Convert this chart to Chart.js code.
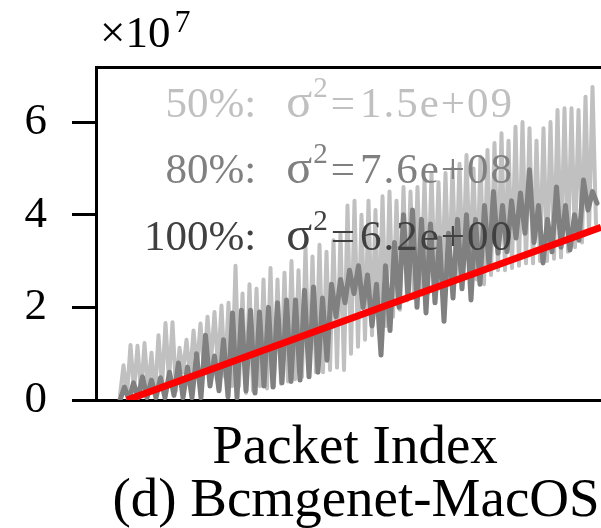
<!DOCTYPE html>
<html>
<head>
<meta charset="utf-8">
<script src="https://cdn.jsdelivr.net/npm/chart.js@4.4.0/dist/chart.umd.min.js"></script>
<style>
    html, body { margin: 0; padding: 0; background: #fff; overflow: hidden; }
    canvas { display: block; }
</style>
</head>
<body>
<canvas id="varChart" width="601" height="528"></canvas>
<script>
// values in units of 1e7
const light50 = [
    0.1, 0.75, 0.1, 1.19, 0.2, 1.17, 0.15, 1.23, 0.2, 1.02,
    0.1, 1.4, 0.3, 1.66, 0.4, 1.68, 0.2, 1.13, 0.6, 1.3,
    0.5, 1.5, 0.7, 1.65, 0.6, 1.8, 0.8, 1.9, 0.7, 2.04,
    0.5, 2.1, 0.3, 2.9, 0.3, 2.3, 0.15, 2.5, 0.2, 2.4,
    0.3, 2.6, 0.25, 2.85, 0.3, 2.6, 0.35, 2.75, 0.4, 3.0,
    0.45, 2.8, 0.5, 3.3, 0.55, 3.1, 0.6, 3.35, 0.6, 3.2,
    0.65, 3.45, 0.7, 3.6, 0.65, 4.2, 1.0, 4.3, 1.15, 4.0,
    1.3, 4.3, 1.4, 4.1, 1.45, 4.4, 1.6, 4.5, 1.8, 4.3,
    1.95, 4.6, 2.15, 4.5, 2.2, 4.6, 2.3, 4.75, 2.3, 4.9,
    2.4, 4.7, 2.45, 4.9, 2.5, 5.0, 2.6, 5.1, 2.7, 5.29,
    2.87, 5.0, 2.6, 5.25, 2.5, 5.4, 2.7, 5.55, 2.8, 5.76,
    2.8, 5.6, 2.85, 5.9, 2.9, 6.0, 2.95, 5.87, 2.95, 5.6,
    3.0, 5.87, 3.0, 6.0, 3.05, 6.26, 3.08, 6.3, 3.2, 6.3,
    3.3, 6.26, 3.4, 6.55, 3.6, 6.76, 3.8
];
const mid80 = [
    0.0, 0.28, 0.0, 0.37, 0.05, 0.5, 0.05, 0.43, 0.05, 0.48,
    0.05, 0.6, 0.1, 0.8, 0.05, 0.71, 0.05, 1.0, 0.05, 1.4,
    0.3, 0.95, 0.2, 1.3, 0.07, 1.88, 0.05, 1.94, 0.2, 1.94,
    0.15, 1.9, 0.3, 2.0, 0.28, 2.1, 0.37, 2.16, 0.4, 2.16,
    0.43, 2.37, 0.5, 2.44, 0.6, 2.2, 0.86, 2.5, 1.8, 2.6,
    2.1, 2.8, 2.3, 2.9, 2.0, 2.7, 1.6, 2.5, 0.97, 2.9,
    1.5, 3.4, 2.0, 4.0, 2.2, 4.1, 2.0, 3.9, 1.88, 3.8,
    2.1, 3.5, 1.7, 3.6, 2.2, 3.9, 2.4, 4.0, 2.16, 3.9,
    2.5, 4.2, 2.9, 4.5, 3.17, 4.2, 3.2, 4.3, 3.5, 4.47,
    3.6, 4.97, 3.4, 4.2, 2.96, 3.9, 3.2, 4.6, 3.3, 4.2,
    3.24, 4.0, 3.45, 4.75, 4.1, 4.5, 4.25
];
const fitIdx = [31, 505];
const fitVal = [0, 3.73];

const yTicks = [0, 2, 4, 6];
const legendPct = ['50%', '80%', '100%'];
const legendVar = ['1.5e+09', '7.6e+08', '6.2e+00'];
const legendColors = ['#c0c0c0', '#808080', '#404040'];

const SERIF = '"Liberation Serif", "DejaVu Serif", serif';

function toPoints(values, start, step) {
    return values.map((v, i) => ({ x: start + step * i, y: v }));
}

function spacedWidth(ctx, text, spacing) {
    let w = 0;
    for (const ch of text) w += ctx.measureText(ch).width + spacing;
    return w - spacing;
}

function drawSpaced(ctx, text, x, y, spacing) {
    for (const ch of text) {
        ctx.fillText(ch, x, y);
        x += ctx.measureText(ch).width + spacing;
    }
}

// "50%:   σ² = value", laid out from the right edge
function drawVarLabel(ctx, right, base, pct, value) {
    const big = '43px ' + SERIF;
    const small = '29px ' + SERIF;
    ctx.font = big;
    const wVal = spacedWidth(ctx, value, 2);
    let x = right - wVal;
    drawSpaced(ctx, value, x, base, 2);
    const wEq = ctx.measureText('=').width;
    x -= wEq + 5;
    ctx.fillText('=', x, base);
    ctx.font = small;
    const wSup = ctx.measureText('2').width;
    x -= wSup + 3;
    ctx.fillText('2', x, base - 20);
    ctx.font = '48px ' + SERIF;
    const wSig = ctx.measureText('\u03c3').width;
    x -= wSig + 1;
    ctx.fillText('\u03c3', x, base);
    ctx.font = big;
    const head = pct + ':';
    const wHead = ctx.measureText(head).width;
    x -= wHead + 30;
    ctx.fillText(head, x, base);
}

const textPlugin = {
    id: 'textPlugin',
    afterDraw(chart) {
        const ctx = chart.ctx;
        ctx.save();
        ctx.textBaseline = 'alphabetic';
        ctx.textAlign = 'left';

        // offset label
        ctx.fillStyle = '#000';
        ctx.font = '45px ' + SERIF;
        ctx.fillText('\u00d710', 100, 47);
        const w = ctx.measureText('\u00d710').width;
        ctx.font = '32px ' + SERIF;
        ctx.fillText('7', 100 + w + 4, 32);

        // variance labels
        const bases = [117, 183, 250];
        legendPct.forEach((p, i) => {
            ctx.fillStyle = legendColors[i];
            drawVarLabel(ctx, 512, bases[i], p, legendVar[i]);
        });

        // axis label and caption
        ctx.fillStyle = '#000';
        ctx.textAlign = 'center';
        ctx.font = '55px ' + SERIF;
        ctx.fillText('Packet Index', 355, 463);
        ctx.fillText('(d) Bcmgenet-MacOS', 356, 516);
        ctx.restore();
    }
};

function displayChart() {
    const ctx = document.getElementById('varChart').getContext('2d');
    const lineStyle = {
        pointRadius: 0,
        tension: 0,
        borderJoinStyle: 'round',
        borderCapStyle: 'round',
        clip: 0
    };
    new Chart(ctx, {
        type: 'line',
        data: {
            datasets: [
                Object.assign({}, lineStyle, {
                    label: 'fit',
                    data: toPoints(fitVal, fitIdx[0], fitIdx[1] - fitIdx[0]),
                    borderColor: '#ff0000',
                    borderWidth: 7,
                    borderCapStyle: 'butt',
                    order: 0
                }),
                Object.assign({}, lineStyle, {
                    label: '80%',
                    data: toPoints(mid80, 24, 4.5),
                    borderColor: '#808080',
                    borderWidth: 5,
                    order: 1
                }),
                Object.assign({}, lineStyle, {
                    label: '50%',
                    data: toPoints(light50, 24, 3.5),
                    borderColor: '#c0c0c0',
                    borderWidth: 4,
                    order: 2
                })
            ]
        },
        options: {
            responsive: false,
            animation: false,
            events: [],
            layout: { padding: { top: 67, right: 0, left: 0, bottom: 0 } },
            plugins: {
                legend: { display: false },
                tooltip: { enabled: false }
            },
            scales: {
                x: {
                    type: 'linear',
                    position: 'bottom',
                    min: 0,
                    max: 505,
                    ticks: { display: false },
                    grid: { display: false },
                    border: { display: true, color: '#000', width: 3 },
                    afterFit: function (scale) { scale.height = 128; }
                },
                xTop: {
                    type: 'linear',
                    position: 'top',
                    min: 0,
                    max: 505,
                    ticks: { display: false },
                    grid: { display: false },
                    border: { display: true, color: '#000', width: 3 },
                    afterFit: function (scale) { scale.height = 0; }
                },
                y: {
                    min: 0,
                    max: 7.19,
                    afterBuildTicks: function (scale) {
                        scale.ticks = yTicks.map(v => ({ value: v }));
                    },
                    ticks: {
                        color: '#000',
                        padding: 25,
                        font: { family: SERIF, size: 45 },
                        callback: v => String(v)
                    },
                    grid: {
                        display: true,
                        drawOnChartArea: false,
                        drawTicks: true,
                        tickLength: 24,
                        color: '#000',
                        lineWidth: 3
                    },
                    border: { display: true, color: '#000', width: 3 },
                    afterFit: function (scale) { scale.width = 96; }
                }
            }
        },
        plugins: [textPlugin]
    });
}

document.addEventListener('DOMContentLoaded', function () {
    displayChart();
});
</script>
</body>
</html>
